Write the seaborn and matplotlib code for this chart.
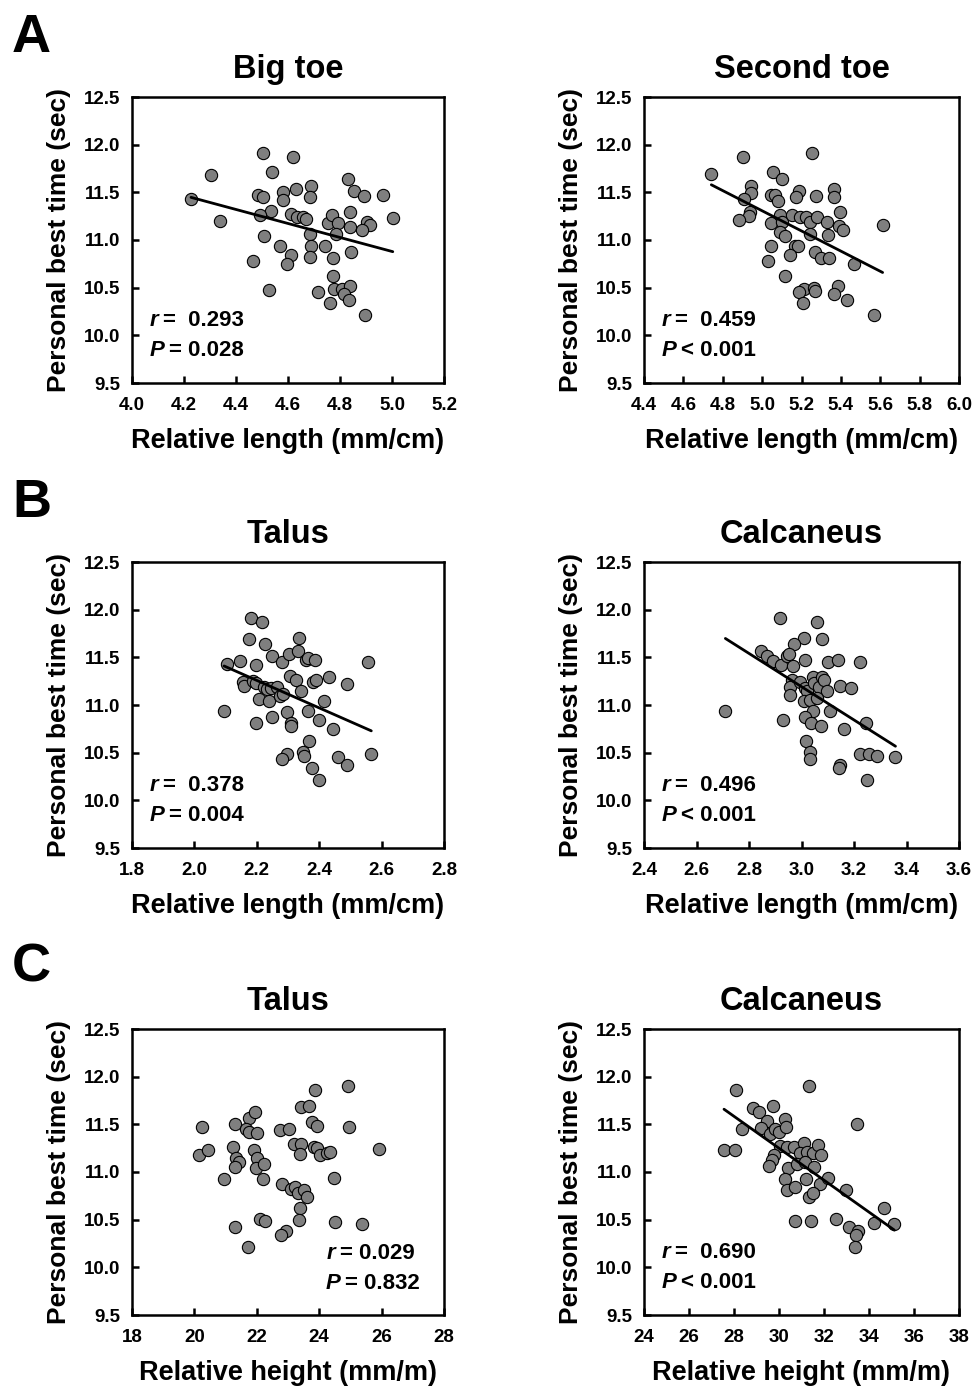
import matplotlib
matplotlib.use("Agg")
import matplotlib.pyplot as plt
import seaborn as sns
import pandas as pd

# --- data ---
big_toe_x = [4.227, 4.302, 4.337, 4.502, 4.618, 4.539, 4.485, 4.502, 4.580, 4.580,
             4.631, 4.687, 4.686, 4.535, 4.494, 4.613, 4.636, 4.656, 4.670, 4.509,
             4.686, 4.570, 4.613, 4.596, 4.467, 4.688, 4.686, 4.525, 4.743, 4.752,
             4.771, 4.794, 4.784, 4.774, 4.773, 4.775, 4.807, 4.838, 4.814, 4.833,
             4.716, 4.762, 4.898, 4.831, 4.853, 4.894, 4.964, 4.839, 4.839, 4.903,
             4.916, 4.884, 4.842, 5.003]
big_toe_y = [11.428, 11.684, 11.204, 11.912, 11.870, 11.709, 11.474, 11.456, 11.502, 11.421,
             11.537, 11.568, 11.449, 11.305, 11.260, 11.270, 11.239, 11.246, 11.218, 11.046,
             11.063, 10.933, 10.842, 10.747, 10.779, 10.933, 10.818, 10.474, 10.933, 11.182,
             11.260, 11.182, 11.063, 10.814, 10.625, 10.488, 10.481, 10.516, 10.435, 10.368,
             10.456, 10.344, 10.211, 11.639, 11.509, 11.463, 11.477, 11.295, 11.140, 11.193,
             11.154, 11.105, 10.870, 11.235]

second_toe_x = [4.742, 4.905, 5.254, 5.056, 5.100, 4.946, 4.946, 4.908, 5.046, 5.064,
                5.081, 5.186, 5.173, 5.274, 5.363, 5.366, 4.937, 4.934, 4.885, 5.044,
                5.092, 5.103, 5.153, 5.192, 5.224, 5.242, 5.281, 5.332, 5.395, 5.393,
                5.410, 5.090, 5.115, 5.245, 5.336, 5.044, 5.168, 5.183, 5.141, 5.271,
                5.297, 5.341, 5.032, 5.469, 5.117, 5.214, 5.186, 5.266, 5.271, 5.208,
                5.386, 5.363, 5.429, 5.569, 5.612]
second_toe_y = [11.688, 11.867, 11.912, 11.709, 11.642, 11.568, 11.498, 11.428, 11.474, 11.474,
                11.414, 11.516, 11.456, 11.463, 11.537, 11.446, 11.298, 11.256, 11.207, 11.182,
                11.263, 11.193, 11.263, 11.239, 11.246, 11.193, 11.242, 11.193, 11.295, 11.147,
                11.105, 11.084, 11.046, 11.063, 11.053, 10.933, 10.933, 10.933, 10.842, 10.870,
                10.807, 10.814, 10.779, 10.744, 10.625, 10.491, 10.453, 10.498, 10.470, 10.344,
                10.516, 10.432, 10.372, 10.211, 11.154]

talus_len_x = [2.105, 2.095, 2.183, 2.218, 2.174, 2.226, 2.146, 2.198, 2.250, 2.282,
               2.303, 2.331, 2.336, 2.357, 2.363, 2.387, 2.557, 2.157, 2.158, 2.188,
               2.196, 2.222, 2.232, 2.247, 2.265, 2.206, 2.240, 2.274, 2.283, 2.306,
               2.326, 2.343, 2.381, 2.391, 2.431, 2.490, 2.416, 2.197, 2.249, 2.297,
               2.310, 2.310, 2.365, 2.398, 2.443, 2.368, 2.348, 2.351, 2.297, 2.282,
               2.377, 2.459, 2.490, 2.399, 2.567]
talus_len_y = [11.425, 10.933, 11.909, 11.867, 11.688, 11.639, 11.463, 11.421, 11.509, 11.456,
               11.537, 11.568, 11.705, 11.474, 11.491, 11.474, 11.446, 11.246, 11.204, 11.256,
               11.228, 11.186, 11.168, 11.182, 11.186, 11.063, 11.046, 11.091, 11.112, 11.309,
               11.263, 11.144, 11.246, 11.263, 11.291, 11.218, 11.046, 10.814, 10.874, 10.930,
               10.814, 10.782, 10.933, 10.842, 10.744, 10.621, 10.509, 10.467, 10.488, 10.432,
               10.344, 10.453, 10.372, 10.211, 10.488]

calc_len_x = [2.710, 2.917, 3.059, 3.010, 3.079, 2.971, 2.846, 2.867, 2.891, 2.923,
              2.945, 2.954, 2.967, 3.014, 3.101, 3.138, 3.222, 2.962, 2.955, 2.956,
              2.995, 3.014, 3.021, 3.044, 3.049, 3.067, 3.079, 3.085, 3.099, 3.145,
              3.188, 3.009, 3.033, 3.059, 3.042, 3.109, 2.928, 3.014, 3.035, 3.073,
              3.163, 3.245, 3.017, 3.033, 3.031, 3.146, 3.142, 3.221, 3.258, 3.287,
              3.358, 3.250]
calc_len_y = [10.933, 11.909, 11.867, 11.705, 11.688, 11.639, 11.568, 11.509, 11.463, 11.421,
              11.509, 11.537, 11.414, 11.474, 11.456, 11.474, 11.446, 11.263, 11.186, 11.102,
              11.239, 11.182, 11.147, 11.291, 11.228, 11.193, 11.298, 11.263, 11.151, 11.204,
              11.182, 11.046, 11.053, 11.070, 10.933, 10.933, 10.846, 10.870, 10.814, 10.779,
              10.747, 10.814, 10.625, 10.512, 10.432, 10.372, 10.344, 10.484, 10.484, 10.467,
              10.453, 10.211]

talus_ht_x = [20.243, 20.148, 20.422, 20.949, 21.308, 21.234, 21.319, 21.414, 21.308, 21.297,
              21.762, 21.930, 21.656, 21.751, 22.004, 21.899, 22.004, 21.983, 22.236, 22.205,
              22.099, 22.257, 21.719, 22.732, 23.027, 23.186, 23.418, 23.376, 23.418, 23.660,
              23.850, 23.755, 23.945, 23.840, 23.945, 24.040, 24.241, 24.346, 24.916, 24.958,
              25.918, 24.473, 22.795, 23.101, 23.217, 23.333, 23.523, 23.608, 23.397, 23.344,
              24.494, 25.359, 22.922, 22.774]
talus_ht_y = [11.471, 11.179, 11.228, 10.929, 11.499, 11.259, 11.144, 11.106, 11.054, 10.428,
              11.565, 11.628, 11.454, 11.419, 11.409, 11.231, 11.148, 11.043, 11.082, 10.929,
              10.511, 10.490, 10.212, 11.437, 11.454, 11.290, 11.297, 11.193, 11.677, 11.697,
              11.857, 11.527, 11.485, 11.263, 11.252, 11.183, 11.203, 11.210, 11.899, 11.471,
              11.242, 10.932, 10.873, 10.817, 10.845, 10.783, 10.810, 10.741, 10.619, 10.494,
              10.473, 10.452, 10.376, 10.341]

calc_ht_x = [27.556, 28.030, 28.104, 28.370, 28.859, 29.111, 29.719, 29.481, 29.215, 29.585,
             29.837, 30.000, 30.281, 30.326, 30.030, 30.341, 30.667, 31.096, 30.948, 31.230,
             31.526, 31.733, 31.881, 29.778, 29.689, 29.570, 30.400, 30.800, 31.170, 31.556,
             30.281, 30.370, 30.696, 31.185, 31.807, 32.193, 31.319, 31.511, 32.963, 31.333,
             33.481, 34.667, 30.696, 31.407, 32.519, 33.096, 33.511, 33.407, 33.393, 34.237,
             35.126]
calc_ht_y = [11.231, 11.231, 11.857, 11.447, 11.673, 11.628, 11.697, 11.530, 11.461, 11.402,
             11.450, 11.416, 11.558, 11.471, 11.270, 11.266, 11.263, 11.304, 11.200, 11.207,
             11.203, 11.287, 11.176, 11.176, 11.130, 11.061, 11.037, 11.082, 11.106, 11.050,
             10.929, 10.814, 10.845, 10.929, 10.873, 10.932, 10.741, 10.783, 10.810, 11.903,
             11.499, 10.623, 10.490, 10.490, 10.508, 10.428, 10.376, 10.341, 10.212, 10.470,
             10.452]

titles = ["Big toe", "Second toe", "Talus", "Calcaneus", "Talus", "Calcaneus"]
xlabels = ["Relative length (mm/cm)"] * 4 + ["Relative height (mm/m)"] * 2
r_texts = ["=  0.293", "=  0.459", "=  0.378", "=  0.496", "= 0.029", "=  0.690"]
p_texts = ["= 0.028", "< 0.001", "= 0.004", "< 0.001", "= 0.832", "< 0.001"]
has_fit = [True, True, True, True, False, True]

xticks_all = [
    [4.0, 4.2, 4.4, 4.6, 4.8, 5.0, 5.2],
    [4.4, 4.6, 4.8, 5.0, 5.2, 5.4, 5.6, 5.8, 6.0],
    [1.8, 2.0, 2.2, 2.4, 2.6, 2.8],
    [2.4, 2.6, 2.8, 3.0, 3.2, 3.4, 3.6],
    [18, 20, 22, 24, 26, 28],
    [24, 26, 28, 30, 32, 34, 36, 38],
]
xtick_fmt = ["{:.1f}"] * 4 + ["{:.0f}"] * 2
yticks = [9.5, 10.0, 10.5, 11.0, 11.5, 12.0, 12.5]

panels = [
    (big_toe_x, big_toe_y),
    (second_toe_x, second_toe_y),
    (talus_len_x, talus_len_y),
    (calc_len_x, calc_len_y),
    (talus_ht_x, talus_ht_y),
    (calc_ht_x, calc_ht_y),
]

sns.set_theme(style="white")
plt.rcParams["font.family"] = ["Liberation Sans", "DejaVu Sans"]
plt.rcParams["font.weight"] = "bold"
for key in ["text.color", "axes.labelcolor", "xtick.color", "ytick.color", "axes.edgecolor"]:
    plt.rcParams[key] = "black"

fig = plt.figure(figsize=(9.77, 13.86), dpi=100)

lefts = [132 / 977, 644 / 977]
bottoms = [(1386 - 383) / 1386, (1386 - 848) / 1386, (1386 - 1315) / 1386]
widths = [312 / 977, 315 / 977]
height = 286 / 1386


def stat_text(ax, x, y, letter, rest):
    t = ax.text(x, y, letter, transform=ax.transAxes, fontsize=16,
                fontweight="bold", fontstyle="italic", va="center", ha="left")
    ax.annotate(rest, xy=(1, 0.5), xycoords=t, xytext=(3.5, 0),
                textcoords="offset points", fontsize=16, fontweight="bold",
                va="center", ha="left")


for i, (xs, ys) in enumerate(panels):
    row, col = divmod(i, 2)
    ax = fig.add_axes([lefts[col], bottoms[row], widths[col], height])
    df = pd.DataFrame({"x": xs, "y": ys})

    scatter_kws = dict(s=78, color="#7f7f7f", edgecolor="black", linewidths=0.8, alpha=1)
    sns.regplot(data=df, x="x", y="y", ax=ax, ci=None, fit_reg=has_fit[i],
                scatter_kws=scatter_kws,
                line_kws=dict(color="black", linewidth=2.0))

    xt = xticks_all[i]
    ax.set_xlim(xt[0], xt[-1])
    ax.set_ylim(9.5, 12.5)
    ax.set_xticks(xt)
    ax.set_xticklabels([xtick_fmt[i].format(v) for v in xt])
    ax.set_yticks(yticks)
    ax.set_yticklabels([f"{v:.1f}" for v in yticks])
    ax.tick_params(direction="in", length=5, width=1.8, labelsize=13.5,
                   bottom=True, left=True)
    ax.tick_params(axis="x", pad=10)
    ax.tick_params(axis="y", pad=8.5)
    for lab in ax.get_xticklabels() + ax.get_yticklabels():
        lab.set_fontweight("bold")
    for sp in ax.spines.values():
        sp.set_linewidth(1.8)
        sp.set_color("black")

    ax.set_title(titles[i], fontsize=23.5, fontweight="bold", pad=14)
    ax.set_xlabel(xlabels[i], fontsize=19.5, fontweight="bold", labelpad=10)
    ax.set_ylabel("Personal best time (sec)", fontsize=19, fontweight="bold", labelpad=9)

    if i == 4:
        stat_text(ax, 0.623, 0.216, "r", r_texts[i])
        stat_text(ax, 0.620, 0.111, "P", p_texts[i])
    else:
        stat_text(ax, 0.055, 0.22, "r", r_texts[i])
        stat_text(ax, 0.055, 0.115, "P", p_texts[i])

# panel letters
for letter, ypix in zip(["A", "B", "C"], [13, 478, 943]):
    fig.text(12 / 977, 1 - ypix / 1386, letter, fontsize=39, fontweight="bold",
             ha="left", va="top")

fig.savefig("out.png", dpi=100)
plt.close(fig)
